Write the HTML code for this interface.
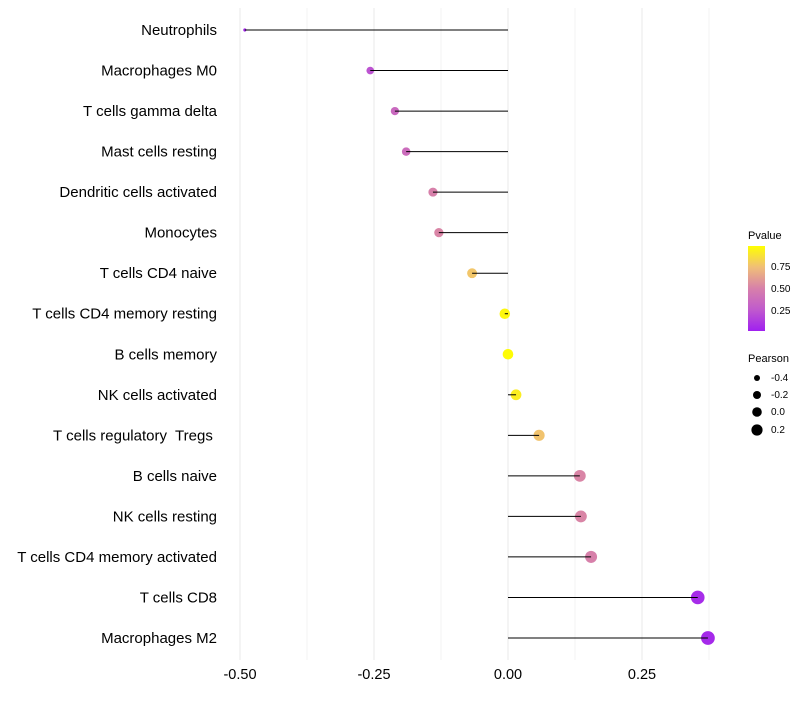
<!DOCTYPE html>
<html><head><meta charset="utf-8"><style>
body{margin:0;background:#fff;font-family:"Liberation Sans",sans-serif}
text{white-space:pre}
</style></head><body>
<svg id="chart" width="800" height="700" xmlns="http://www.w3.org/2000/svg">
<defs><linearGradient id="pg" x1="0" y1="1" x2="0" y2="0">
<stop offset="0" stop-color="rgb(160,32,240)"/><stop offset="0.25" stop-color="rgb(192,90,205)"/><stop offset="0.5" stop-color="rgb(215,128,170)"/><stop offset="0.75" stop-color="rgb(240,190,120)"/><stop offset="1" stop-color="rgb(255,255,0)"/></linearGradient></defs>
<g id="grid"></g><g id="marks"></g><g id="labels"></g>
<g font-size="10">
<text x="748" y="239" font-size="11">Pvalue</text>
<rect x="748" y="246" width="17" height="85" fill="url(#pg)"/>
<text x="771" y="270">0.75</text>
<text x="771" y="292">0.50</text>
<text x="771" y="314">0.25</text>
</g>
<g font-size="10">
<text x="748" y="362" font-size="11">Pearson</text>
<circle cx="757" cy="378" r="3" fill="#000"/><text x="771" y="381">-0.4</text>
<circle cx="757" cy="395" r="4" fill="#000"/><text x="771" y="398">-0.2</text>
<circle cx="757" cy="412" r="4.8" fill="#000"/><text x="771" y="415">0.0</text>
<circle cx="757" cy="430" r="5.6" fill="#000"/><text x="771" y="433">0.2</text>
</g>
</svg>
<script>
const categories=["Neutrophils","Macrophages M0","T cells gamma delta","Mast cells resting","Dendritic cells activated","Monocytes","T cells CD4 naive","T cells CD4 memory resting","B cells memory","NK cells activated","T cells regulatory  Tregs ","B cells naive","NK cells resting","T cells CD4 memory activated","T cells CD8","Macrophages M2"];
const pearson=[-0.491,-0.257,-0.211,-0.190,-0.140,-0.129,-0.067,-0.006,0.0,0.015,0.058,0.134,0.136,0.155,0.354,0.373];
const pvalues=[0.03,0.22,0.35,0.37,0.5,0.52,0.78,0.97,0.99,0.93,0.77,0.52,0.52,0.5,0.05,0.04];
const xTicks=[-0.5,-0.25,0,0.25];
const xTickLabels=["-0.50","-0.25","0.00","0.25"];
const NS="http://www.w3.org/2000/svg";
const x=v=>508+v*536;
const y=i=>30+i*(608/15);
const r=v=>Math.sqrt(Math.max(1.5,28+52*v));
const stops=[[0,[160,32,240]],[0.25,[192,90,205]],[0.5,[215,128,170]],[0.75,[240,190,120]],[1,[255,255,0]]];
function col(p){for(let k=1;k<stops.length;k++){if(p<=stops[k][0]){const [p0,a]=stops[k-1],[p1,b]=stops[k];const t=(p-p0)/(p1-p0);return `rgb(${a.map((c,j)=>Math.round(c+(b[j]-c)*t)).join(',')})`;}}return 'rgb(255,255,0)';}
function mk(t,at,parent){const e=document.createElementNS(NS,t);for(const k in at)e.setAttribute(k,at[k]);document.getElementById(parent).appendChild(e);return e;}
for(let v=-0.5;v<=0.3751;v+=0.125){const g=mk('line',{x1:x(v),x2:x(v),y1:8,y2:660,stroke:'#ebebeb','stroke-width':Math.abs(v*4-Math.round(v*4))<1e-6?1.1:0.6},'grid');

}
xTicks.forEach((v,i)=>{const t=mk('text',{x:x(v),y:679,'text-anchor':'middle','font-size':14.5,fill:'#000'},'labels');t.textContent=xTickLabels[i];

});
categories.forEach((c,i)=>{
const t=mk('text',{x:217,y:y(i)+5,'text-anchor':'end','font-size':15,fill:'#000'},'labels');t.textContent=c;


const p=mk('circle',{cx:x(pearson[i]),cy:y(i),r:r(pearson[i]),fill:col(pvalues[i])},'marks');


const l=mk('line',{x1:x(0),x2:x(pearson[i]),y1:y(i),y2:y(i),stroke:'#000','stroke-width':1},'marks');


});
</script>
</body></html>
